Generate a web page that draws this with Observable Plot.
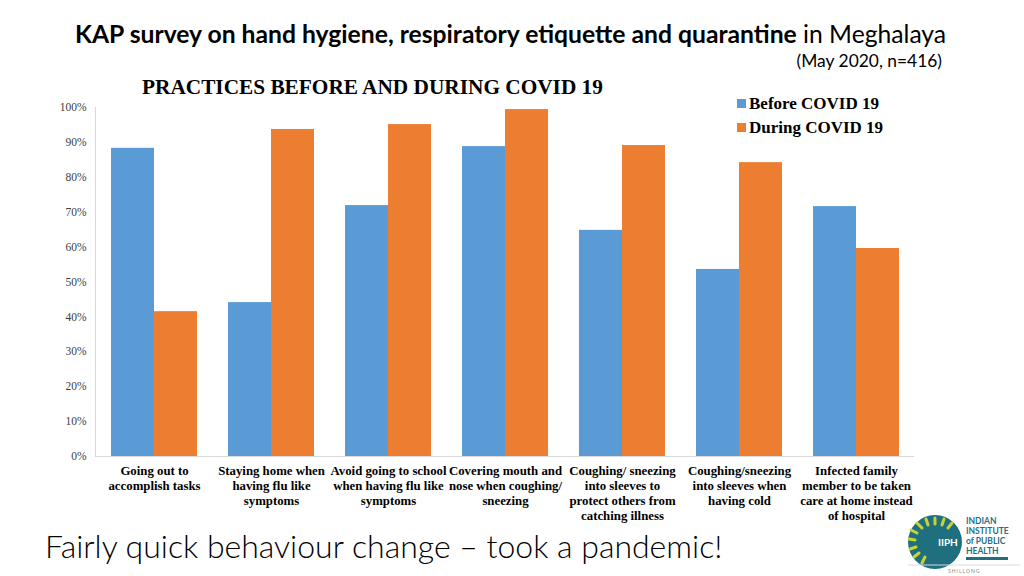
<!DOCTYPE html>
<html>
<head>
<meta charset="utf-8">
<script src="https://cdn.jsdelivr.net/npm/d3@7"></script>
<script src="https://cdn.jsdelivr.net/npm/@observablehq/plot@0.6"></script>
<style>
  html, body { margin: 0; padding: 0; background: #fff; }
  #page { position: relative; width: 1024px; height: 576px; overflow: hidden; background: #fff; }
  .abs { position: absolute; white-space: nowrap; }
  #title { left: 75px; top: 18px; font-family: Lato, "Open Sans", sans-serif; font-size: 24.7px; color: #000; line-height: 32px; }
  #title b { font-weight: 700; }
  #sub { right: 82px; top: 49px; font-family: Lato, sans-serif; font-size: 17.4px; color: #000; line-height: 24px; }
  #ctitle { left: 142px; top: 74px; font-family: "Liberation Serif", "Times New Roman", serif; font-weight: bold; font-size: 21.3px; line-height: 26px; }
  #legend { left: 737px; top: 92px; font-family: "Liberation Serif", serif; font-weight: bold; font-size: 17px; line-height: 24px; }
  #legend .sw { display: inline-block; width: 9px; height: 9px; margin-right: 3px; vertical-align: 1px; }
  #chart { left: 0; top: 95px; }
  #bottom { left: 45px; top: 526px; font-family: Lato, sans-serif; font-weight: 300; font-size: 32px; line-height: 40px; color: #000; }
  #logo { left: 898px; top: 512px; }
</style>
</head>
<body>
<div id="page">
  <div id="title" class="abs"><b>KAP survey on hand hygiene, respiratory etiquette and quarantine</b> in Meghalaya</div>
  <div id="sub" class="abs">(May 2020, n=416)</div>
  <div id="ctitle" class="abs">PRACTICES BEFORE AND DURING COVID 19</div>
  <div id="chart" class="abs"></div>
  <div id="legend" class="abs"></div>
  <div id="bottom" class="abs">Fairly quick behaviour change – took a pandemic!</div>
  <div id="logo" class="abs">
    <svg width="126" height="64" viewBox="0 0 126 64">
      <circle cx="37" cy="30" r="27" fill="#1f6f7f"/>
      <g stroke="#c8d23a" stroke-width="3" stroke-linecap="round">
        <line x1="24" y1="16" x2="19" y2="11"/><line x1="30" y1="13" x2="28" y2="7"/>
        <line x1="37" y1="12" x2="37" y2="6"/><line x1="44" y1="13" x2="46" y2="7"/>
        <line x1="50" y1="16" x2="54" y2="11"/><line x1="19" y1="21" x2="13" y2="18"/>
        <line x1="17" y1="28" x2="11" y2="27"/><line x1="18" y1="35" x2="12" y2="37"/>
        <line x1="21" y1="41" x2="16" y2="45"/><line x1="27" y1="45" x2="24" y2="51"/>
      </g>
      <text x="40" y="34" fill="#fff" font-family="Lato, sans-serif" font-size="10" font-weight="bold">IIPH</text>
      <g fill="#1f6f7f" font-family="Lato, sans-serif" font-size="8.5" font-weight="bold">
        <text x="68" y="12">INDIAN</text>
        <text x="68" y="22">INSTITUTE</text>
        <text x="68" y="32">of PUBLIC</text>
        <text x="68" y="42">HEALTH</text>
      </g>
      <rect x="68" y="45" width="42" height="3" fill="#1f6f7f"/>
      <line x1="10" y1="53" x2="122" y2="53" stroke="#d9d9d9"/>
      <text x="50" y="61" fill="#888" font-family="Lato, sans-serif" font-size="5" letter-spacing="1">SHILLONG</text>
    </svg>
  </div>
</div>
<script>
const categories = [
  "Going out to\naccomplish tasks",
  "Staying home when\nhaving flu like\nsymptoms",
  "Avoid going to school\nwhen having flu like\nsymptoms",
  "Covering mouth and\nnose when coughing/\nsneezing",
  "Coughing/ sneezing\ninto sleeves to\nprotect others from\ncatching illness",
  "Coughing/sneezing\ninto sleeves when\nhaving cold",
  "Infected family\nmember to be taken\ncare at home instead\nof hospital"
];
const seriesNames = ["Before COVID 19", "During COVID 19"];
const seriesColors = ["#5B9BD5", "#ED7D31"];
const beforeValues = [88.3, 44.1, 71.9, 88.8, 64.8, 53.6, 71.6];
const duringValues = [41.5, 93.7, 95.1, 99.4, 89.1, 84.2, 59.6];
const yTicks = [0, 10, 20, 30, 40, 50, 60, 70, 80, 90, 100];

const beforeRows = categories.map((c, i) => ({category: c, series: seriesNames[0], value: beforeValues[i]}));
const duringRows = categories.map((c, i) => ({category: c, series: seriesNames[1], value: duringValues[i]}));

const W = 930, ML = 95, MR = 16, MT = 12, MB = 70, PH = 349;
const pad = 0.265;
const step = (W - ML - MR) / categories.length;
const half = step * (1 - pad) / 2;

const chart = Plot.plot({
  width: W,
  height: MT + PH + MB,
  marginLeft: ML, marginRight: MR, marginTop: MT, marginBottom: MB,
  style: {fontFamily: "'Liberation Serif', 'Times New Roman', serif", background: "transparent", overflow: "visible"},
  x: {domain: categories, paddingInner: pad, paddingOuter: pad / 2, axis: null},
  y: {domain: [0, 100], axis: null},
  marks: [
    Plot.barY(beforeRows, {x: "category", y: "value", fill: seriesColors[0], insetRight: half}),
    Plot.barY(duringRows, {x: "category", y: "value", fill: seriesColors[1], insetLeft: half}),
    Plot.ruleY([0], {stroke: "#d9d9d9", strokeWidth: 1}),
    Plot.frame({anchor: "left", stroke: "#d9d9d9"}),
    Plot.axisY({ticks: yTicks, tickFormat: d => d + "%", tickSize: 0, tickPadding: 9, fontSize: 11.5, fill: "#404040", label: null}),
    Plot.axisX({tickSize: 0, tickPadding: 8, fontSize: 12.8, fontWeight: "bold", fill: "#000", lineHeight: 1.17, label: null})
  ]
});
document.getElementById("chart").appendChild(chart);

const legend = document.getElementById("legend");
seriesNames.forEach((s, i) => {
  const row = document.createElement("div");
  row.innerHTML = `<span class="sw" style="background:${seriesColors[i]}"></span>${s}`;
  legend.appendChild(row);
});
</script>
</body>
</html>
